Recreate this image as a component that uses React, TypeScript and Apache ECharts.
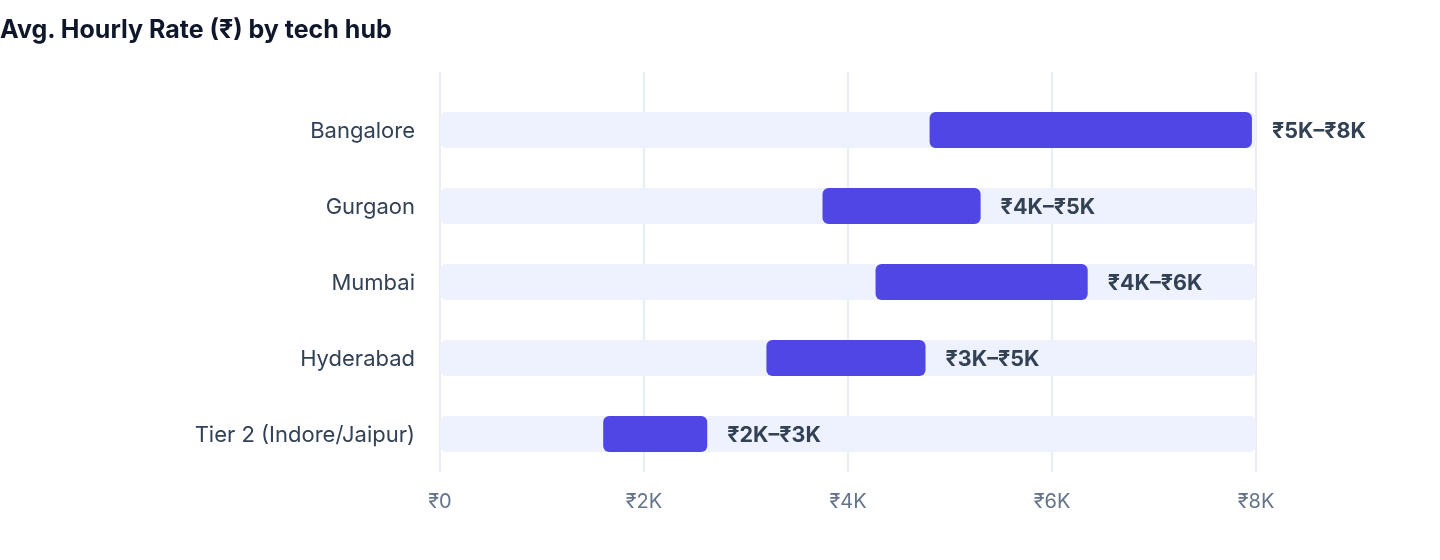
import React from 'react';
import * as echarts from 'echarts';

const hubs = ['Bangalore', 'Gurgaon', 'Mumbai', 'Hyderabad', 'Tier 2 (Indore/Jaipur)'];
const rateLow = [4800, 3750, 4270, 3200, 1600];
const rateHigh = [7960, 5300, 6350, 4760, 2620];
const rangeLabels = ['₹5K–₹8K', '₹4K–₹5K', '₹4K–₹6K', '₹3K–₹5K', '₹2K–₹3K'];
const axisMax = 8000;

const FONT = 'Inter, "Liberation Sans", "Noto Sans", sans-serif';

const App = () => {
  const chartRef = React.useRef<HTMLDivElement>(null);

  React.useEffect(() => {
    const chart = echarts.init(chartRef.current, null, { renderer: 'svg' });

    chart.setOption({
      animation: false,
      textStyle: { fontFamily: FONT },
      title: {
        text: 'Avg. Hourly Rate (₹) by tech hub',
        left: 0,
        top: 16,
        padding: 0,
        textStyle: { fontSize: 25, fontWeight: 'bold', color: '#0F172A', fontFamily: FONT },
      },
      grid: [
        // vertical gridlines + x labels
        { left: 440, right: 184, top: 72, bottom: 88 },
        // bars
        { left: 440, right: 184, top: 92, bottom: 88 },
      ],
      xAxis: [
        {
          gridIndex: 0,
          type: 'value',
          min: 0,
          max: axisMax,
          interval: 2000,
          axisLine: { show: false },
          axisTick: { show: false },
          splitLine: { show: true, lineStyle: { color: '#E2E8F0', width: 1.5 } },
          axisLabel: {
            color: '#64748B',
            fontSize: 20,
            margin: 19,
            fontFamily: FONT,
            formatter: (v: number) => (v === 0 ? '₹0' : `₹${v / 1000}K`),
          },
        },
        {
          gridIndex: 1,
          type: 'value',
          min: 0,
          max: axisMax,
          show: false,
        },
      ],
      yAxis: [
        { gridIndex: 0, type: 'value', min: 0, max: 1, show: false },
        {
          gridIndex: 1,
          type: 'category',
          data: hubs,
          inverse: true,
          axisLine: { show: false },
          axisTick: { show: false },
          axisLabel: { color: '#334155', fontSize: 22, margin: 25, fontFamily: FONT },
        },
      ],
      series: [
        {
          name: 'track',
          type: 'bar',
          xAxisIndex: 1,
          yAxisIndex: 1,
          data: hubs.map(() => axisMax),
          barWidth: 36,
          barGap: '-100%',
          itemStyle: { color: '#EEF2FF', borderRadius: 6 },
          silent: true,
        },
        {
          name: 'base',
          type: 'bar',
          xAxisIndex: 1,
          yAxisIndex: 1,
          stack: 'range',
          data: rateLow,
          barWidth: 36,
          barGap: '-100%',
          itemStyle: { color: 'transparent' },
          silent: true,
        },
        {
          name: 'range',
          type: 'bar',
          xAxisIndex: 1,
          yAxisIndex: 1,
          stack: 'range',
          data: rateHigh.map((h, i) => h - rateLow[i]),
          barWidth: 36,
          barGap: '-100%',
          itemStyle: { color: '#4F46E5', borderRadius: 6 },
          label: {
            show: true,
            position: 'right',
            distance: 20,
            color: '#334155',
            fontSize: 21.5,
            fontWeight: 'bold',
            fontFamily: FONT,
            formatter: (p: any) => rangeLabels[p.dataIndex],
          },
        },
      ],
    });

    return () => {
      chart.dispose();
    };
  }, []);

  return (
    <div
      ref={chartRef}
      style={{ position: 'fixed', left: 0, top: 0, width: '1440px', height: '560px' }}
    />
  );
};

export default App;
